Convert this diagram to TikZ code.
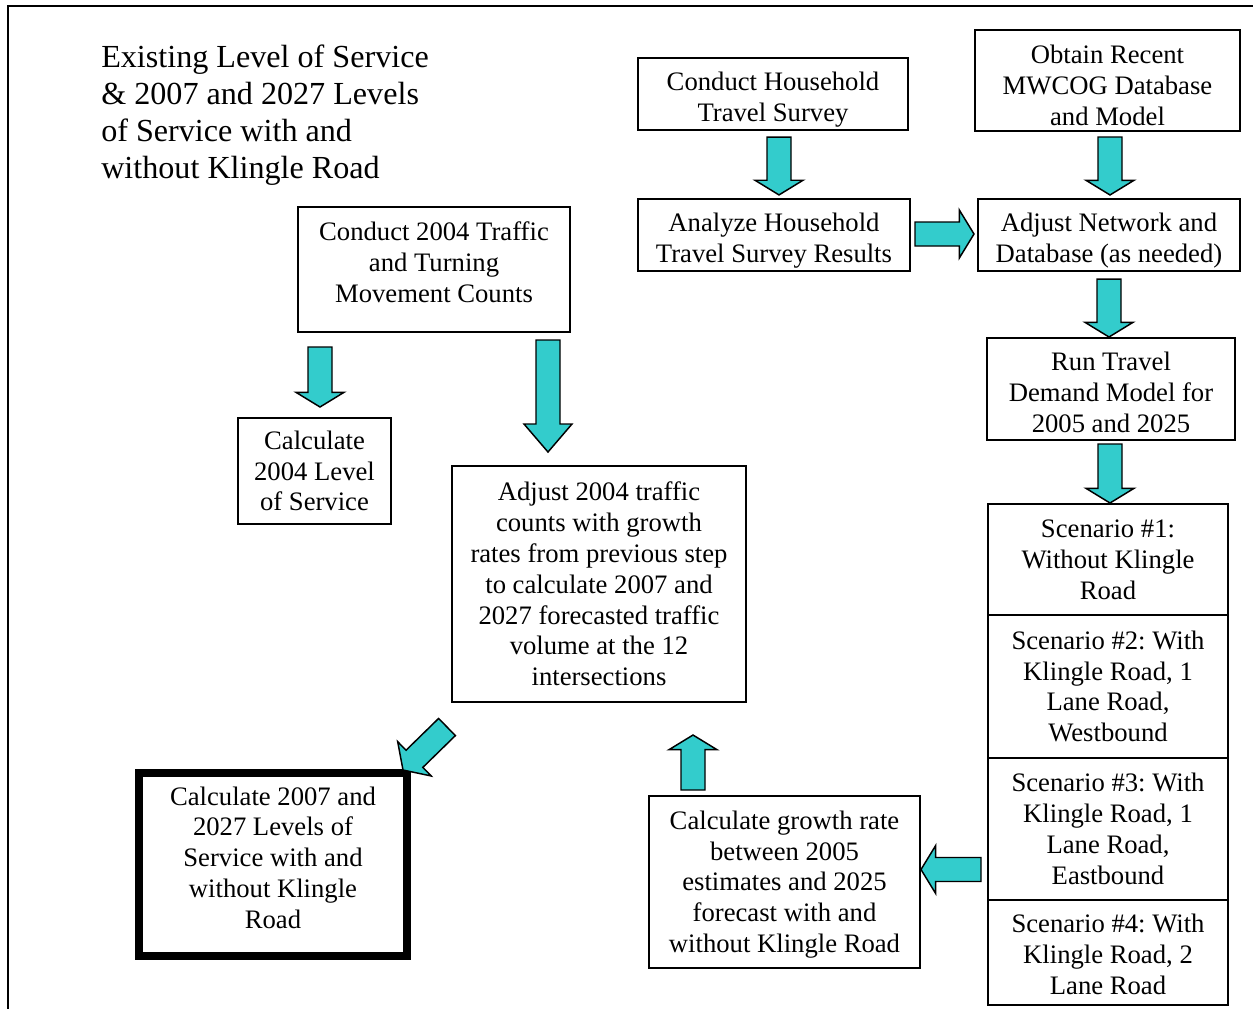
\documentclass[tikz,border=0pt]{standalone}
\usepackage{fontspec}
\setmainfont{Liberation Serif}
\usetikzlibrary{calc,positioning}
\frenchspacing

\definecolor{arrowteal}{RGB}{51,204,204}
\newcommand{\boxfont}{\fontsize{20}{23.1}\selectfont}
\newcommand{\titlefont}{\fontsize{24.1}{27.75}\selectfont}
\newcommand{\txtdown}[1]{\rule{0pt}{#1}}      % taller first line
\newcommand{\txtup}[1]{\rule[-#1]{0pt}{0pt}}  % deeper last line

\tikzset{
  box/.style 2 args={draw, fill=white, line width=1.1pt, outer sep=0pt, inner sep=2pt,
    align=center, font=\boxfont, minimum width=#1*0.75pt, minimum height=#2*0.75pt},
  fatarrow/.style={draw, fill=arrowteal, line width=1.1pt, line join=miter},
}

% block arrow: [head length]{tail}{tip}
\newcommand{\fatarrow}[3][11pt]{%
  \coordinate (fa-h) at ($(#3)!#1!(#2)$);
  \draw[fatarrow] ($(#2)!9pt!90:(#3)$) -- ($(fa-h)!9pt!90:(#3)$) -- ($(fa-h)!18pt!90:(#3)$)
    -- (#3) -- ($(fa-h)!18pt!-90:(#3)$) -- ($(fa-h)!9pt!-90:(#3)$) -- ($(#2)!9pt!-90:(#3)$) -- cycle;
}

\begin{document}
\begin{tikzpicture}[x=0.75pt, y=-0.75pt]
        \useasboundingbox (0,0) rectangle (1253,1008);
        \clip (0,0) rectangle (1253,1008);
        \draw[line width=1.5pt] (8,6) rectangle (1290,1040); % frame

        \node[anchor=west, align=left, inner sep=0pt, font=\titlefont] (title) at (101,115.5)
            {Existing Level of Service\\ \& 2007 and 2027 Levels\\ of Service with and\\ without Klingle Road};

        \node[box={270}{72}] (hts) at (773,94) {\txtdown{22.7pt}Conduct Household\\ Travel Survey}; % survey
        \node[box={265}{101}] (mwc) at (1107.5,80.5) {\txtdown{21.2pt}Obtain Recent\\ MWCOG Database\\ and Model}; % model
        \node[box={272}{72}] (ahs) at (774,235) {\txtdown{22.7pt}Analyze Household\\ Travel Survey Results}; % survey results
        \node[box={262}{72}] (anet) at (1109,235) {\txtdown{22.7pt}Adjust Network and\\ Database (as needed)}; % network
        \node[box={272}{125}] (tmc) at (434,269.5) {Conduct 2004 Traffic\\ and Turning\\ Movement Counts\txtup{10.7pt}}; % counts
        \node[box={153}{106}] (los04) at (314.5,471) {Calculate\\ 2004 Level\\ of Service}; % existing LOS
        \node[box={248}{102}] (tdm) at (1111,389) {\txtdown{19pt}Run Travel\\ Demand Model for\\ 2005 and 2025}; % model run
        \node[box={294}{236}] (adj) at (599,584) {Adjust 2004 traffic\\ counts with growth\\ rates from previous step\\ to calculate 2007 and\\ 2027 forecasted traffic\\ volume at the 12\\ intersections}; % forecast
        \node[box={271}{172}] (grw) at (784.5,882) {\txtdown{17.5pt}Calculate growth rate\\ between 2005\\ estimates and 2025\\ forecast with and\\ without Klingle Road}; % growth
        \node[box={268}{183}, line width=6pt] (los27) at (273,864.5) {Calculate 2007 and\\ 2027 Levels of\\ Service with and\\ without Klingle\\ Road\txtup{10.7pt}}; % future LOS

        % scenarios
        \node[box={240}{111}] (sc1) at (1108,559.5) {Scenario \#1:\\ Without Klingle\\ Road};
        \node[box={240}{143}, below=0pt of sc1] (sc2) {Scenario \#2: With\\ Klingle Road, 1\\ Lane Road,\\ Westbound};
        \node[box={240}{142}, below=0pt of sc2] (sc3) {Scenario \#3: With\\ Klingle Road, 1\\ Lane Road,\\ Eastbound};
        \node[box={240}{105}, below=0pt of sc3] (sc4) {\txtdown{16.7pt}Scenario \#4: With\\ Klingle Road, 2\\ Lane Road};

        % arrow ends
        \coordinate (t1) at ($(hts.south)+(6,7)$);       \coordinate (h1) at ($(ahs.north)+(5,-4)$);
        \coordinate (t2) at ($(mwc.south)+(2.5,6)$);     \coordinate (h2) at ($(anet.north)+(1,-4)$);
        \coordinate (t3) at ($(ahs.east)+(5,-1)$);       \coordinate (h3) at ($(anet.west)+(-4,-1)$);
        \coordinate (t4) at ($(anet.south)+(0,8)$);      \coordinate (h4) at ($(tdm.north)+(-2,-1)$);
        \coordinate (t5) at ($(tdm.south)+(-1,4)$);      \coordinate (h5) at ($(sc1.north)+(2,-1)$);
        \coordinate (t6) at ($(tmc.south west)+(22,15)$); \coordinate (h6) at ($(los04.north)+(5.5,-11)$);
        \coordinate (t7) at ($(tmc.south east)+(-22,8)$); \coordinate (h7) at ($(adj.north)+(-51,-14)$);
        \coordinate (t8) at ($(adj.south west)+(-5,25)$); \coordinate (h8) at ($(los27.north east)+(-4,-3)$);
        \coordinate (t9) at ($(grw.north)+(-91.5,-6)$);  \coordinate (h9) at ($(adj.south)+(94,33)$);
        \coordinate (t10) at ($(sc3.west)+(-7,40.5)$);   \coordinate (h10) at ($(grw.east)+(1,-12.5)$);

        \fatarrow{t1}{h1}
        \fatarrow{t2}{h2}
        \fatarrow{t3}{h3}
        \fatarrow{t4}{h4}
        \fatarrow{t5}{h5}
        \fatarrow{t6}{h6}
        \fatarrow[21pt]{t7}{h7}
        \fatarrow[12pt]{t8}{h8}
        \fatarrow{t9}{h9}
        \fatarrow{t10}{h10}
    \end{tikzpicture}
\end{document}
